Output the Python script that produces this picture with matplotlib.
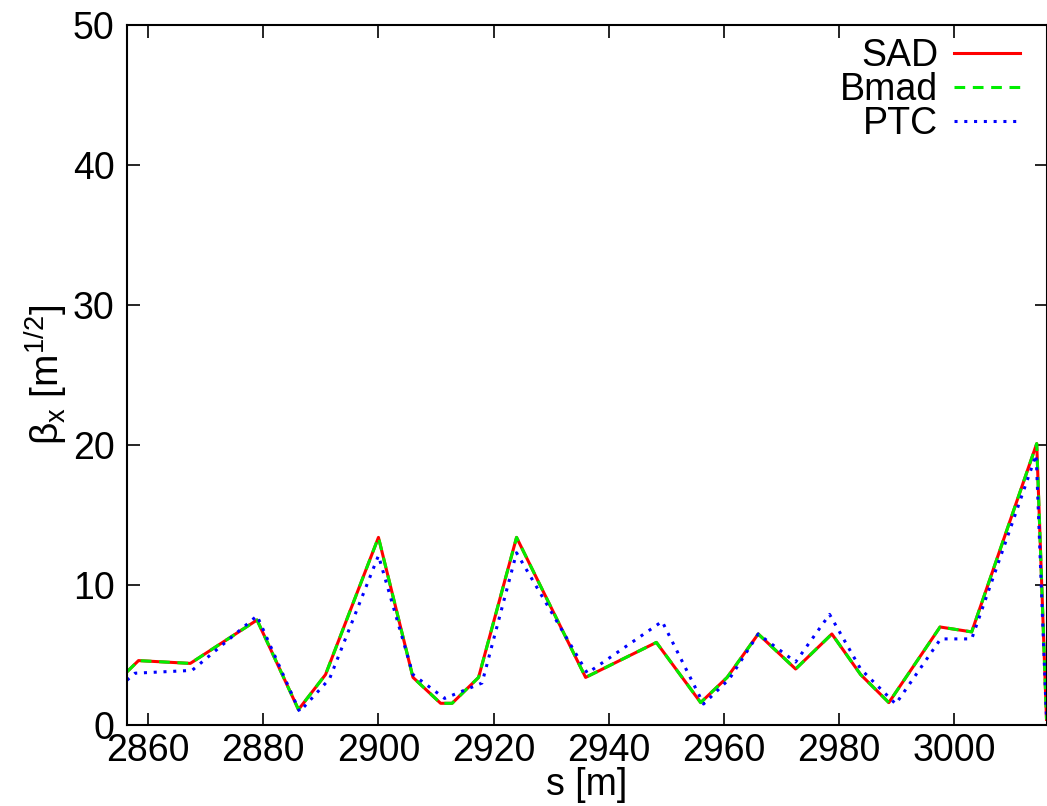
import matplotlib
matplotlib.use("Agg")
import matplotlib.pyplot as plt
from matplotlib.lines import Line2D

plt.rcParams['font.family'] = ['Liberation Sans', 'DejaVu Sans']
plt.rcParams['mathtext.fontset'] = 'custom'
plt.rcParams['mathtext.rm'] = 'Liberation Sans'
plt.rcParams['mathtext.it'] = 'Liberation Sans'

# SAD / Bmad (coincident)
s_sad = [2856.3, 2858.3, 2867.3, 2878.9, 2886.1, 2890.8, 2900.0, 2906.0, 2910.8,
         2912.8, 2917.4, 2924.0, 2936.0, 2948.3, 2956.0, 2960.6, 2966.0, 2972.5,
         2978.8, 2983.8, 2988.7, 2997.6, 3003.1, 3014.4, 3016.1]
beta_sad = [3.8, 4.6, 4.4, 7.5, 1.1, 3.6, 13.4, 3.4, 1.55,
            1.55, 3.4, 13.4, 3.4, 5.9, 1.6, 3.4, 6.5, 4.0,
            6.5, 3.6, 1.6, 7.0, 6.65, 20.1, 0.4]
beta_bmad = list(beta_sad)

# PTC
s_ptc = [2856.3, 2857.7, 2867.6, 2878.9, 2886.3, 2891.5, 2900.0, 2906.0, 2911.5,
         2918.0, 2924.0, 2936.3, 2949.3, 2956.5, 2961.0, 2966.0, 2972.5, 2978.4,
         2983.8, 2989.9, 2997.7, 3003.1, 3014.3, 3016.1]
beta_ptc = [3.2, 3.7, 3.9, 7.8, 0.95, 3.3, 12.1, 3.6, 1.9,
            3.0, 12.3, 3.7, 7.4, 1.5, 3.3, 6.5, 4.5, 7.9,
            4.0, 1.5, 6.15, 6.15, 19.3, 0.4]

fig = plt.figure(figsize=(10.47, 8.06), dpi=100)
ax = fig.add_axes([127/1047, 81/806, (1046.5-127)/1047, 700/806])

lw = 2.2
ax.plot(s_sad, beta_sad, color='#ff0000', lw=lw, ls='-', label='SAD')
ax.plot(s_sad, beta_bmad, color='#00ee00', lw=lw, ls=(0, (3.5, 2.5)), label='Bmad')
ax.plot(s_ptc, beta_ptc, color='#0000ff', lw=lw, ls=(0, (1, 2.2)), label='PTC')

ax.set_xlim(2856.3, 3016.1)
ax.set_ylim(0, 50)
ax.set_xticks([2860, 2880, 2900, 2920, 2940, 2960, 2980, 3000])
ax.set_yticks([0, 10, 20, 30, 40, 50])
ax.tick_params(direction='in', length=9, width=1.2, top=True, right=True,
               labelsize=27)
ax.tick_params(axis='y', pad=9)
ax.tick_params(axis='x', pad=6)
for sp in ax.spines.values():
    sp.set_linewidth(1.5)

ax.set_xlabel('s [m]', fontsize=27, labelpad=-2)
ax.set_ylabel(r'$\beta_{\rm x}$ [m$^{\rm 1/2}$]', fontsize=28, labelpad=2)

handles = [Line2D([], [], color='#ff0000', lw=lw, ls='-'),
           Line2D([], [], color='#00ee00', lw=lw, ls=(0, (3.5, 2.5))),
           Line2D([], [], color='#0000ff', lw=lw, ls=(0, (1, 2.2)))]
ax.legend(handles, ['SAD', 'Bmad', 'PTC'], loc='upper right', frameon=False,
          markerfirst=False, fontsize=27, handlelength=1.76, handletextpad=0.43,
          labelspacing=-0.05, borderaxespad=0.5, borderpad=0.2,
          bbox_to_anchor=(1.0, 1.0 + 13/700))

fig.savefig('out.png', dpi=100)
